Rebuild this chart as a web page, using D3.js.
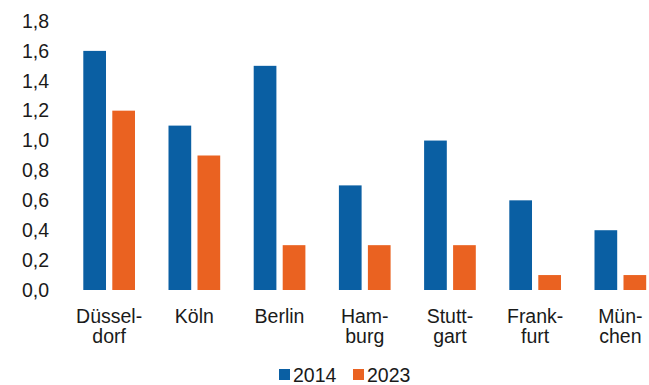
<!DOCTYPE html>
<html><head><meta charset="utf-8">
<script src="https://cdn.jsdelivr.net/npm/d3@7"></script>
<style>body{margin:0;background:#fff}svg{display:block}text{font-family:"Liberation Sans",Arial,sans-serif;fill:#1a1a1a}</style>
</head><body>
<script>
const cities = [["Düssel-","dorf"],["Köln"],["Berlin"],["Ham-","burg"],["Stutt-","gart"],["Frank-","furt"],["Mün-","chen"]];
const series = ["2014","2023"];
const values2014 = [1.6,1.1,1.5,0.7,1.0,0.6,0.4];
const values2023 = [1.2,0.9,0.3,0.3,0.3,0.1,0.1];
const yTicks = [0,0.2,0.4,0.6,0.8,1.0,1.2,1.4,1.6,1.8];
const colors = ["#0a5fa3","#ea6221"];

const W=649,H=385,FS=19.5;
const svg=d3.select("body").append("svg").attr("width",W).attr("height",H);
const keys=cities.map(c=>c.join(""));
const x=d3.scaleBand().domain(keys).range([66.6,663]).padding(0);
const xi=d3.scaleBand().domain(series).range([16.7,68.4]).paddingInner(0.217).paddingOuter(0);
const y=d3.scaleLinear().domain([0,1.8]).range([290,21]);
const color=d3.scaleOrdinal().domain(series).range(colors);

const yAxis=d3.axisLeft(y).tickValues(yTicks).tickSize(0).tickPadding(0)
  .tickFormat(d=>d3.format(".1f")(d).replace(".",","));
const gy=svg.append("g").attr("transform","translate(49,0)").call(yAxis);
gy.select(".domain").remove();
gy.selectAll("text").attr("font-size",FS).attr("font-family","Liberation Sans, Arial, sans-serif").attr("fill","#1a1a1a");

const data=keys.map((k,i)=>({k,vals:[values2014[i],values2023[i]]}));
const g=svg.selectAll("g.grp").data(data).join("g").attr("class","grp")
  .attr("transform",d=>`translate(${x(d.k)},0)`);
g.selectAll("rect").data(d=>series.map((s,j)=>({s,v:d.vals[j]}))).join("rect")
  .attr("x",d=>xi(d.s)).attr("width",xi.bandwidth())
  .attr("y",d=>y(d.v)).attr("height",d=>y(0)-y(d.v))
  .attr("fill",d=>color(d.s));

const xAxis=d3.axisBottom(x).tickSize(0).tickFormat("");
const gx=svg.append("g").attr("transform","translate(0,290)").call(xAxis);
gx.select(".domain").remove();
const mid=(xi(series[0])+xi(series[1])+xi.bandwidth())/2;
keys.forEach((k,i)=>{
  const t=svg.append("text").attr("text-anchor","middle").attr("font-size",FS)
    .attr("x",x(k)+mid).attr("y",323);
  cities[i].forEach((line,j)=>t.append("tspan").attr("x",x(k)+mid).attr("dy",j?20:0).text(line));
});

const leg=svg.append("g");
const legX=[279,353];
series.forEach((s,i)=>{
  leg.append("rect").attr("x",legX[i]).attr("y",369).attr("width",11).attr("height",11).attr("fill",color(s));
  leg.append("text").attr("x",legX[i]+14).attr("y",382).attr("font-size",FS).text(s);
});
</script>
</body></html>
